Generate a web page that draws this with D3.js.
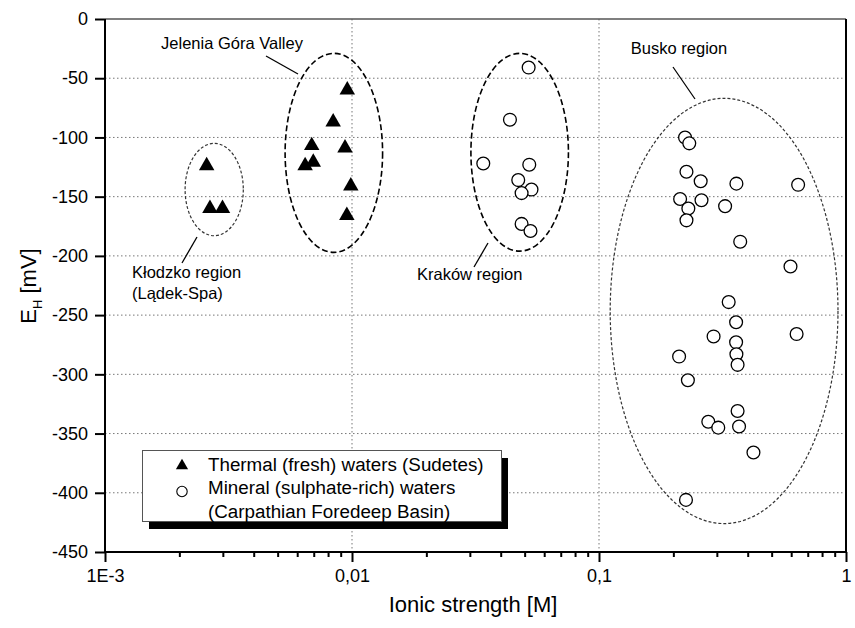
<!DOCTYPE html>
<html>
<head>
<meta charset="utf-8">
<script src="https://cdn.jsdelivr.net/npm/d3@7"></script>
<style>
  body { margin: 0; background: #fff; }
  svg { font-family: "Liberation Sans", Arial, sans-serif; }
  .axis path, .axis line { stroke: #000; stroke-width: 2px; }
  .axis text { font-size: 18px; fill: #000; }
  .grid line { stroke: #777; stroke-width: 1px; stroke-dasharray: 1.5,2.5; }
</style>
</head>
<body>
<div id="chart"></div>
<script>
// data ///////////////////////////////////////
// Thermal (fresh) waters, Sudetes
var thermalIonic = [0.00258, 0.00266, 0.00299,
  0.00957, 0.00839, 0.00687, 0.00937, 0.00646, 0.00697, 0.00989, 0.00953];
var thermalEh = [-122, -158, -158,
  -58, -85, -105, -107, -122, -119, -139, -164];

// Mineral (sulphate-rich) waters, Carpathian Foredeep Basin
var mineralIonic = [0.0519, 0.0436, 0.0340, 0.0522, 0.0471, 0.0533, 0.0486, 0.0486, 0.0528,
  0.223, 0.232, 0.226, 0.258, 0.360, 0.640, 0.213, 0.260, 0.324, 0.230, 0.226, 0.373, 0.596,
  0.335, 0.359, 0.631, 0.291, 0.359, 0.211, 0.360, 0.364, 0.229, 0.364, 0.277, 0.304, 0.369,
  0.422, 0.225];
var mineralEh = [-41, -85, -122, -123, -136, -144, -147, -173, -179,
  -100, -105, -129, -137, -139, -140, -152, -153, -158, -160, -170, -188, -209,
  -239, -256, -266, -268, -273, -285, -283, -292, -305, -331, -340, -345, -344,
  -366, -406];

// regions drawn as ellipses (extent in data units)
var regionNames = ["Kłodzko", "Jelenia Góra", "Kraków", "Busko"];
var regionIonicMin = [0.00211, 0.00536, 0.0303, 0.111];
var regionIonicMax = [0.00363, 0.0133, 0.0752, 0.928];
var regionEhMax = [-105, -29, -29, -67];
var regionEhMin = [-183, -197, -196, -426];

var xTicks = [0.001, 0.01, 0.1, 1];
var xTickLabels = ["1E-3", "0,01", "0,1", "1"];
var yTicks = d3.range(0, -451, -50);

var legendLabels = ["Thermal (fresh) waters (Sudetes)", "Mineral (sulphate-rich) waters", "(Carpathian Foredeep Basin)"];

// chart config ///////////////////////////////
var W = 855, H = 628;
var margin = {top: 19, right: 9, bottom: 76, left: 105};
var width = W - margin.left - margin.right,
    height = H - margin.top - margin.bottom;

var x = d3.scaleLog().domain([0.001, 1]).range([0, width]);
var y = d3.scaleLinear().domain([-450, 0]).range([height, 0]);

var svg = d3.select("#chart").append("svg")
  .attr("width", W).attr("height", H);
var g = svg.append("g")
  .attr("transform", "translate(" + margin.left + "," + margin.top + ")");

// grid
g.append("g").attr("class", "grid")
  .selectAll("line").data(yTicks.filter(function(d) { return d < 0 && d > -450; }))
  .enter().append("line")
  .attr("x1", 0).attr("x2", width)
  .attr("y1", function(d) { return y(d); }).attr("y2", function(d) { return y(d); });
g.append("g").attr("class", "grid")
  .selectAll("line").data([0.01, 0.1])
  .enter().append("line")
  .attr("y1", 0).attr("y2", height)
  .attr("x1", function(d) { return x(d); }).attr("x2", function(d) { return x(d); });

// frame top/right
g.append("line").attr("x1", 0).attr("x2", width).attr("y1", 0).attr("y2", 0)
  .style("stroke", "#555").style("stroke-width", "1.5px");
g.append("line").attr("x1", width).attr("x2", width).attr("y1", 0).attr("y2", height)
  .style("stroke", "#000").style("stroke-width", "2px");

// axes
var xAxis = d3.axisBottom(x).tickValues(xTicks).tickSize(10).tickPadding(7)
  .tickFormat(function(d, i) { return xTickLabels[i]; });
var minorTicks = [];
xTicks.slice(0, 3).forEach(function(t) {
  for (var k = 2; k <= 9; k++) minorTicks.push(t * k);
});
var xMinor = d3.axisBottom(x).tickValues(minorTicks).tickSize(5).tickFormat("");
g.append("g").attr("class", "axis").attr("transform", "translate(0," + height + ")").call(xMinor)
  .select(".domain").remove();
g.append("g").attr("class", "axis").attr("transform", "translate(0," + height + ")").call(xAxis);

var yAxis = d3.axisLeft(y).tickValues(yTicks).tickSize(10).tickPadding(7)
  .tickFormat(function(d) { return String(d); });  // plain hyphen as in the original
g.append("g").attr("class", "axis").call(yAxis);
g.selectAll(".axis .domain").attr("d", null);
g.append("line").attr("x1", 0).attr("x2", width).attr("y1", height).attr("y2", height)
  .style("stroke", "#000").style("stroke-width", "2px");
g.append("line").attr("x1", 0).attr("x2", 0).attr("y1", 0).attr("y2", height)
  .style("stroke", "#000").style("stroke-width", "2px");

// axis titles
svg.append("text").attr("x", 473).attr("y", 612).attr("text-anchor", "middle")
  .style("font-size", "22px").text("Ionic strength [M]");
var yt = svg.append("text").attr("transform", "translate(36," + 286 + ") rotate(-90)")
  .attr("text-anchor", "middle").style("font-size", "22px");
yt.append("tspan").text("E");
yt.append("tspan").attr("dy", 6).style("font-size", "13px").text("H");
yt.append("tspan").attr("dy", -6).text(" [mV]");

// ellipses
var ellStyle = [
  {dash: "3,2", w: 1.2, c: "#333"},
  {dash: "6,3", w: 1.6, c: "#000"},
  {dash: "6,3", w: 1.6, c: "#000"},
  {dash: "3,2", w: 1.2, c: "#333"}
];
g.selectAll(".region").data(regionNames).enter().append("ellipse")
  .attr("class", "region")
  .attr("cx", function(d, i) { return (x(regionIonicMin[i]) + x(regionIonicMax[i])) / 2; })
  .attr("cy", function(d, i) { return (y(regionEhMin[i]) + y(regionEhMax[i])) / 2; })
  .attr("rx", function(d, i) { return (x(regionIonicMax[i]) - x(regionIonicMin[i])) / 2; })
  .attr("ry", function(d, i) { return (y(regionEhMin[i]) - y(regionEhMax[i])) / 2; })
  .style("fill", "none")
  .style("stroke", function(d, i) { return ellStyle[i].c; })
  .style("stroke-width", function(d, i) { return ellStyle[i].w; })
  .style("stroke-dasharray", function(d, i) { return ellStyle[i].dash; });

// region labels + leader lines
var ann = svg.append("g").style("font-size", "16.5px");
function leader(x1, y1, x2, y2) {
  ann.append("line").attr("x1", x1).attr("y1", y1).attr("x2", x2).attr("y2", y2)
    .style("stroke", "#000").style("stroke-width", "1.3px");
}
ann.append("text").attr("x", 232).attr("y", 49).attr("text-anchor", "middle").text("Jelenia Góra Valley");
leader(266, 56, 298, 74);
ann.append("text").attr("x", 132).attr("y", 278).text("Kłodzko region");
ann.append("text").attr("x", 132).attr("y", 299).text("(Lądek-Spa)");
leader(197, 237, 182, 263);
ann.append("text").attr("x", 417).attr("y", 280).text("Kraków region");
leader(488, 243, 474, 267);
ann.append("text").attr("x", 679).attr("y", 54).attr("text-anchor", "middle").text("Busko region");
leader(673, 67, 695, 99);

// markers
var triangle = {
  draw: function(ctx, size) {
    var s = Math.sqrt(size), h = s * 0.87;
    ctx.moveTo(0, -h / 2);
    ctx.lineTo(s / 2, h / 2);
    ctx.lineTo(-s / 2, h / 2);
    ctx.closePath();
  }
};
var triPath = d3.symbol().type(triangle).size(240);

g.selectAll(".mineral").data(mineralIonic).enter().append("circle")
  .attr("class", "mineral")
  .attr("cx", function(d) { return x(d); })
  .attr("cy", function(d, i) { return y(mineralEh[i]); })
  .attr("r", 6.4)
  .style("fill", "#fff").style("stroke", "#000").style("stroke-width", "1.3px");

g.selectAll(".thermal").data(thermalIonic).enter().append("path")
  .attr("class", "thermal")
  .attr("d", triPath)
  .attr("transform", function(d, i) { return "translate(" + x(d) + "," + y(thermalEh[i]) + ")"; })
  .style("fill", "#000");

// legend
var lg = svg.append("g");
lg.append("rect").attr("x", 149).attr("y", 458).attr("width", 359).attr("height", 71).style("fill", "#000");
lg.append("rect").attr("x", 142.5).attr("y", 450.5).attr("width", 359).attr("height", 71)
  .style("fill", "#fff").style("stroke", "#555").style("stroke-width", "1px");
lg.append("path").attr("d", d3.symbol().type(triangle).size(150))
  .attr("transform", "translate(182,464)").style("fill", "#000");
lg.append("circle").attr("cx", 182).attr("cy", 491.5).attr("r", 5.2)
  .style("fill", "#fff").style("stroke", "#000").style("stroke-width", "1.1px");
lg.selectAll(".lt").data(legendLabels).enter().append("text")
  .attr("class", "lt")
  .attr("x", 208)
  .attr("y", function(d, i) { return 470.5 + i * 23.5; })
  .style("font-size", "18.8px")
  .text(function(d) { return d; });
</script>
</body>
</html>
